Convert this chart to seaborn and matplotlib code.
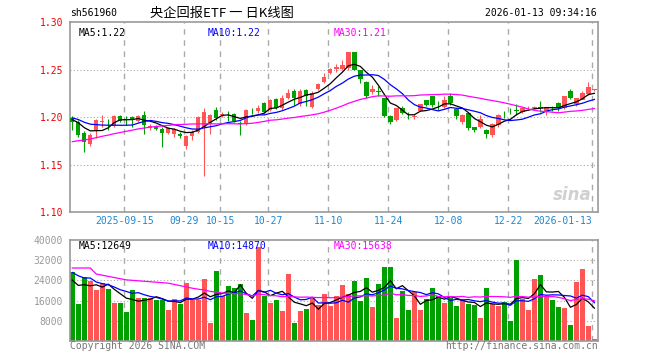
import numpy as np
import pandas as pd
import matplotlib
matplotlib.use('Agg')
import matplotlib.pyplot as plt
import matplotlib.transforms as mtransforms
import seaborn as sns

code = 'sh561960'
title = '央企回报ETF 一 日K线图'
stamp = '2026-01-13 09:34:16'

# closes/volumes before the visible window, so the moving averages start at the edge
prior_close = [1.150, 1.152, 1.148, 1.155, 1.153, 1.158, 1.156, 1.160, 1.158, 1.162,
               1.160, 1.165, 1.163, 1.167, 1.166, 1.170, 1.168, 1.172, 1.171, 1.176,
               1.198, 1.203, 1.201, 1.202, 1.2005, 1.197, 1.200, 1.198, 1.196]
prior_volume = [14600, 25400, 23800, 92000, 36600, 34300, 28900, 28900, 25200, 25700,
                22700, 22700, 22700, 21800, 22000, 17800, 31600, 29600, 38000, 31400,
                28000, 34000, 24000, 36000, 29100, 25000, 24000, 26000, 18100]

opens = [1.199, 1.195, 1.183, 1.172, 1.185, 1.195, 1.196, 1.191, 1.201, 1.198,
         1.200, 1.196, 1.202, 1.188, 1.190, 1.187, 1.183, 1.182, 1.1826, 1.169,
         1.180, 1.1845, 1.189, 1.193, 1.207, 1.202, 1.2025, 1.203, 1.1935, 1.193,
         1.2065, 1.206, 1.215, 1.207, 1.2185, 1.209, 1.2205, 1.2275, 1.214, 1.228,
         1.2105, 1.229, 1.237, 1.246, 1.251, 1.2505, 1.2512, 1.2687, 1.249, 1.237,
         1.2265, 1.2275, 1.2195, 1.201, 1.1967, 1.209, 1.2025, 1.1995, 1.2065, 1.2178,
         1.2223, 1.2128, 1.2107, 1.2223, 1.208, 1.195, 1.2037, 1.1896, 1.1896, 1.1868,
         1.181, 1.1914, 1.2035, 1.2072, 1.2072, 1.2048, 1.209, 1.210, 1.2107, 1.2055,
         1.211, 1.2143, 1.209, 1.2273, 1.2132, 1.2175, 1.2241, 1.2285]
closes = [1.195, 1.181, 1.174, 1.181, 1.197, 1.196, 1.1955, 1.201, 1.196, 1.197,
          1.197, 1.201, 1.192, 1.191, 1.187, 1.183, 1.188, 1.187, 1.180, 1.180,
          1.1845, 1.200, 1.2055, 1.202, 1.1985, 1.203, 1.202, 1.196, 1.193, 1.207,
          1.206, 1.209, 1.2055, 1.218, 1.209, 1.2205, 1.2255, 1.2205, 1.2275, 1.222,
          1.2255, 1.235, 1.242, 1.251, 1.253, 1.2546, 1.2687, 1.250, 1.240, 1.222,
          1.229, 1.2265, 1.201, 1.195, 1.209, 1.2045, 1.202, 1.2015, 1.2135, 1.2125,
          1.2125, 1.2125, 1.2178, 1.2143, 1.201, 1.202, 1.188, 1.1868, 1.1974, 1.1826,
          1.193, 1.202, 1.203, 1.207, 1.2068, 1.210, 1.2093, 1.2103, 1.2095, 1.2107,
          1.209, 1.209, 1.2223, 1.2196, 1.2196, 1.2255, 1.2311, 1.2287]
highs = [1.201, 1.197, 1.185, 1.183, 1.198, 1.202, 1.198, 1.202, 1.202, 1.201,
         1.201, 1.202, 1.206, 1.193, 1.192, 1.189, 1.189, 1.188, 1.184, 1.181,
         1.186, 1.201, 1.209, 1.203, 1.2107, 1.205, 1.206, 1.204, 1.196, 1.208,
         1.210, 1.213, 1.216, 1.219, 1.220, 1.223, 1.230, 1.229, 1.229, 1.230,
         1.227, 1.236, 1.246, 1.252, 1.256, 1.260, 1.2687, 1.2687, 1.2495, 1.238,
         1.234, 1.2325, 1.2195, 1.202, 1.210, 1.212, 1.205, 1.203, 1.214, 1.218,
         1.2225, 1.217, 1.222, 1.2255, 1.209, 1.2035, 1.204, 1.190, 1.2025, 1.187,
         1.194, 1.203, 1.2065, 1.210, 1.214, 1.211, 1.2115, 1.212, 1.2165, 1.211,
         1.212, 1.2155, 1.2225, 1.229, 1.2205, 1.227, 1.237, 1.2295]
lows = [1.186, 1.179, 1.163, 1.170, 1.178, 1.190, 1.186, 1.190, 1.195, 1.192,
        1.189, 1.195, 1.182, 1.186, 1.186, 1.168, 1.182, 1.179, 1.178, 1.166,
        1.176, 1.183, 1.1376, 1.1826, 1.197, 1.200, 1.196, 1.195, 1.181, 1.192,
        1.203, 1.204, 1.204, 1.206, 1.208, 1.207, 1.219, 1.213, 1.212, 1.212,
        1.209, 1.228, 1.236, 1.245, 1.247, 1.250, 1.250, 1.249, 1.236, 1.2205,
        1.224, 1.222, 1.200, 1.193, 1.196, 1.203, 1.198, 1.1975, 1.206, 1.212,
        1.211, 1.207, 1.209, 1.213, 1.198, 1.193, 1.186, 1.184, 1.188, 1.1784,
        1.179, 1.190, 1.199, 1.203, 1.2025, 1.204, 1.2072, 1.208, 1.2055, 1.2025,
        1.206, 1.2065, 1.208, 1.2185, 1.212, 1.219, 1.2235, 1.2275]
volumes = [27400, 14600, 25400, 23800, 20100, 22800, 20500, 15100, 15100, 11400,
           20100, 17100, 17100, 17100, 16200, 16400, 12200, 16600, 14600, 23000,
           16400, 16400, 24600, 7200, 27800, 17900, 21700, 20900, 22700, 11100,
           8200, 37400, 17900, 15100, 16200, 11800, 26500, 7200, 11800, 12600,
           17100, 14200, 18500, 13800, 17800, 22100, 18800, 23700, 15800, 25000,
           13400, 22400, 29300, 29300, 9000, 19700, 12200, 19500, 12200, 16600,
           21100, 17800, 15100, 17100, 13800, 16600, 14600, 14200, 9000, 21100,
           14600, 13800, 15400, 8000, 32100, 16600, 12200, 24600, 26100, 17800,
           16200, 13400, 13000, 6400, 23300, 28600, 6000, 700]

date_labels = ['2025-09-15', '09-29', '10-15', '10-27', '11-10', '11-24', '12-08', '12-22', '2026-01-13']
date_index = [9, 19, 25, 33, 43, 53, 63, 73, 87]
price_ticks = [1.10, 1.15, 1.20, 1.25, 1.30]
price_labels = ['1.10', '1.15', '1.20', '1.25', '1.30']
vol_ticks = [8000, 16000, 24000, 32000, 40000]
ma_price_text = ['MA5:1.22', 'MA10:1.22', 'MA30:1.21']
ma_vol_text = ['MA5:12649', 'MA10:14870', 'MA30:15638']

RED = '#FF5555'
GREEN = '#00A000'
MA_COLORS = ['#000000', '#0000FF', '#FF00FF']
GRID = '#AAAAAA'
FRAME = '#999999'
MONO = 'DejaVu Sans Mono'
FS = 7

n = len(closes)
idx = np.arange(n)
df = pd.DataFrame({'i': idx, 'open': opens, 'close': closes, 'high': highs,
                   'low': lows, 'volume': volumes})
df['dir'] = np.where(df['close'] >= df['open'], 'up', 'down')
colors = df['dir'].map({'up': RED, 'down': GREEN})

all_close = pd.Series(prior_close + closes)
all_vol = pd.Series(prior_volume + volumes)
for w in (5, 10, 30):
    df[f'ma{w}'] = all_close.rolling(w).mean().iloc[len(prior_close):].values
    df[f'vma{w}'] = all_vol.rolling(w).mean().iloc[len(prior_volume):].values

W, H = 660, 360
fig = plt.figure(figsize=(W / 100, H / 100), dpi=100)
fig.patch.set_facecolor('white')
ax = fig.add_axes([70 / W, 1 - 212 / H, 528 / W, 190 / H])
axv = fig.add_axes([70 / W, 1 - 341 / H, 528 / W, 101 / H])

xlim = (-0.38, 87.6)
grid_x = [d - 0.33 for d in date_index]

# price panel
for y in price_ticks[1:-1]:
    ax.axhline(y, color=GRID, lw=0.8, ls=(0, (1, 2)), zorder=0)
for gx in grid_x:
    ax.axvline(gx, color=GRID, lw=1.0, ls=(0, (4, 4)), zorder=0)

ax.vlines(df['i'], df['low'], df['high'], colors=colors, lw=0.8, zorder=2)
body_bottom = df[['open', 'close']].min(axis=1)
body_h = (df['close'] - df['open']).abs().clip(lower=0.0006)
ax.bar(df['i'], body_h, bottom=body_bottom, width=0.72, color=colors, lw=0, zorder=3)

for w, c in zip((5, 10, 30), MA_COLORS):
    sns.lineplot(x=df['i'], y=df[f'ma{w}'], color=c, lw=0.9, ax=ax, zorder=4)

ax.set_xlim(*xlim)
ax.set_ylim(1.10, 1.30)
ax.set_xticks([])
ax.set_yticks(price_ticks)
ax.set_yticklabels(price_labels, color='#EE0000', family=MONO, fontsize=FS)
ax.tick_params(axis='y', length=0, pad=5)
ax.set_xlabel('')
ax.set_ylabel('')

trans = mtransforms.blended_transform_factory(ax.transData, ax.transAxes)
for k, (gx, lab) in enumerate(zip(grid_x, date_labels)):
    ha = 'right' if k == len(date_labels) - 1 else 'center'
    ax.text(gx, -0.046, lab, transform=trans, ha=ha, va='center',
            color='#1E88D0', family=MONO, fontsize=FS)

ax.text(1, 1.288, ma_price_text[0], color=MA_COLORS[0], family=MONO, fontsize=FS, va='center')
ax.text(22.5, 1.288, ma_price_text[1], color=MA_COLORS[1], family=MONO, fontsize=FS, va='center')
ax.text(43.5, 1.288, ma_price_text[2], color=MA_COLORS[2], family=MONO, fontsize=FS, va='center')
ax.text(86.5, 1.118, 'sina', color='#D0D0D0', fontsize=12, fontweight='bold',
        style='italic', ha='right', va='center')

# volume panel
for y in vol_ticks[:-1]:
    axv.axhline(y, color=GRID, lw=0.8, ls=(0, (1, 2)), zorder=0)
for gx in grid_x:
    axv.axvline(gx, color=GRID, lw=1.0, ls=(0, (4, 4)), zorder=0)

sns.barplot(data=df, x='i', y='volume', hue='dir', palette={'up': RED, 'down': GREEN},
            native_scale=True, dodge=False, width=0.82, saturation=1, linewidth=0,
            legend=False, ax=axv, zorder=2)
for w, c in zip((5, 10, 30), MA_COLORS):
    sns.lineplot(x=df['i'], y=df[f'vma{w}'], color=c, lw=0.9, ax=axv, zorder=4)

axv.set_xlim(*xlim)
axv.set_ylim(0, 40000)
axv.set_xticks([])
axv.set_yticks(vol_ticks)
axv.set_yticklabels([str(v) for v in vol_ticks], color='#999999', family=MONO, fontsize=FS)
axv.tick_params(axis='y', length=0, pad=5)
axv.set_xlabel('')
axv.set_ylabel('')

axv.text(1, 37600, ma_vol_text[0], color=MA_COLORS[0], family=MONO, fontsize=FS, va='center')
axv.text(22.5, 37600, ma_vol_text[1], color=MA_COLORS[1], family=MONO, fontsize=FS, va='center')
axv.text(43.5, 37600, ma_vol_text[2], color=MA_COLORS[2], family=MONO, fontsize=FS, va='center')

for a in (ax, axv):
    for s in a.spines.values():
        s.set_color(FRAME)
        s.set_linewidth(1.2)

# header / footer
fig.text(70 / W, 1 - 13 / H, code, family=MONO, fontsize=FS, va='center', ha='left')
fig.text(222 / W, 1 - 13 / H, title, family=['Noto Sans CJK SC', 'DejaVu Sans'],
         fontsize=9.5, va='center', ha='center')
fig.text(597 / W, 1 - 13 / H, stamp, family=MONO, fontsize=FS, va='center', ha='right')
fig.text(70 / W, 1 - 346 / H, 'Copyright 2026 SINA.COM', family=MONO, fontsize=FS,
         color='#777777', va='center', ha='left')
fig.text(598 / W, 1 - 346 / H, 'http://finance.sina.com.cn', family=MONO, fontsize=FS,
         color='#777777', va='center', ha='right')

fig.savefig('out.png', dpi=100)
